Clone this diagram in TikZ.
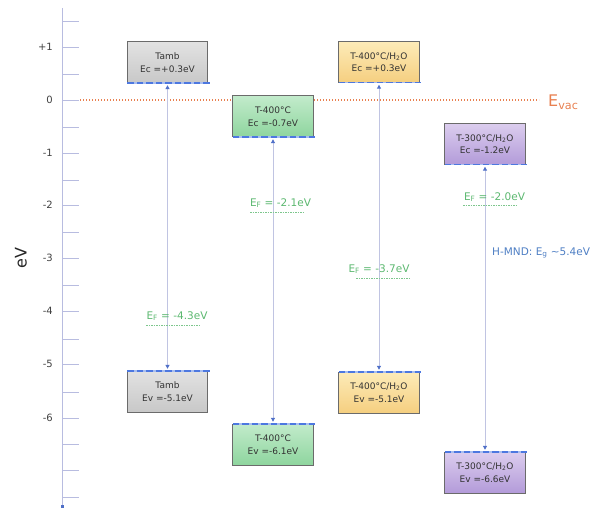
\documentclass[tikz,border=0pt]{standalone}
\usepackage{fontspec}
\setmainfont{DejaVu Sans}
\usetikzlibrary{arrows.meta}

\definecolor{axiscol}{HTML}{B8BCE0}
\definecolor{ticktext}{HTML}{404040}
\definecolor{vaccol}{HTML}{E88050}
\definecolor{fermicol}{HTML}{5CB870}
\definecolor{levelline}{HTML}{C0C4E2}
\definecolor{tipcol}{HTML}{5070C8}
\definecolor{edgecol}{HTML}{4D78E0}
\definecolor{edgelight}{HTML}{A8BEF0}
\definecolor{gapcol}{HTML}{4F7FC4}
\definecolor{boxline}{HTML}{6B6B6B}
\definecolor{grayT}{HTML}{E2E2E2}
\definecolor{grayB}{HTML}{C8C8C8}
\definecolor{greenT}{HTML}{C2EBCB}
\definecolor{greenB}{HTML}{8ED59E}
\definecolor{yellowT}{HTML}{FDEBB8}
\definecolor{yellowB}{HTML}{F5CF80}
\definecolor{purpleT}{HTML}{DCCDEE}
\definecolor{purpleB}{HTML}{B39BD9}

\tikzset{
  band/.style={minimum width=80pt, minimum height=41pt,
    inner sep=0pt, align=center, text=black!80, font=\fontsize{9}{12.5}\selectfont},
  grayband/.style={band, top color=grayT, bottom color=grayB},
  greenband/.style={band, top color=greenT, bottom color=greenB},
  yellowband/.style={band, top color=yellowT, bottom color=yellowB},
  purpleband/.style={band, top color=purpleT, bottom color=purpleB},
  frame/.style={draw=boxline, line width=0.8pt},
  gapline/.style={draw=levelline, line width=1pt,
    {Triangle[width=4pt,length=4pt,color=tipcol]}-{Triangle[width=4pt,length=4pt,color=tipcol]}},
  fermilabel/.style={text=fermicol, font=\fontsize{10.5}{12}\selectfont, inner sep=0pt},
  fermiline/.style={draw=fermicol!80, line width=0.7pt, dash pattern=on 1.5pt off 1pt},
  tick/.style={draw=axiscol, line width=0.9pt},
  ticklabel/.style={text=ticktext, font=\fontsize{10}{12}\selectfont, anchor=east, inner sep=0pt}
}

% conduction-band box: framed on three sides, dashed blue edge at the bottom
\newcommand{\condbox}[1]{%
  \draw[frame] (#1.south west) -- (#1.north west) -- (#1.north east) -- (#1.south east);
  \bandedge{#1}{south}}
% valence-band box: framed on three sides, dashed blue edge at the top
\newcommand{\valbox}[1]{%
  \draw[frame] (#1.north west) -- (#1.south west) -- (#1.south east) -- (#1.north east);
  \bandedge{#1}{north}}
% dashed band edge along one side of a box
\newcommand{\bandedge}[2]{%
  \path (#1.#2 west) coordinate (ew) (#1.#2 east) coordinate (ee);
  \fill[edgelight] ([yshift=-0.8pt]ew) rectangle ([yshift=0.8pt]ee);
  \foreach \k in {0,...,8}
    \fill[edgecol] ([xshift=\k*9.5pt, yshift=-0.8pt]ew) rectangle ([xshift=\k*9.5pt+6.5pt, yshift=0.8pt]ew);
}

\begin{document}
\begin{tikzpicture}[x=1pt,y=-1pt]
\useasboundingbox (0,0) rectangle (598,508);

% energy axis
\coordinate (axtop) at (62,8);
\coordinate (axbot) at (62,506);
\draw[draw=axiscol, line width=1pt] (axtop) -- (axbot);
\fill[tipcol] (60.5,504.5) rectangle (63.5,507.5);
\foreach \y in {21,47,74,100,127,153,180,205,232,258,285,311,339,364,392,418,444,470,497}
  \draw[tick] (62,\y) -- (79,\y);
\node[ticklabel] (l1)  at (53,47)  {+1};
\node[ticklabel] (l0)  at (53,100) {0};
\node[ticklabel] (lm1) at (53,153) {-1};
\node[ticklabel] (lm2) at (53,205) {-2};
\node[ticklabel] (lm3) at (53,258) {-3};
\node[ticklabel] (lm4) at (53,311) {-4};
\node[ticklabel] (lm5) at (53,364) {-5};
\node[ticklabel] (lm6) at (53,418) {-6};
\node[rotate=90, text=black!85, font=\fontsize{16}{18}\selectfont] (ev) at (21,258) {eV};

% vacuum level
\coordinate (vacL) at (80,100);
\coordinate (vacR) at (539,100);
\draw[draw=vaccol, line width=1.4pt, dash pattern=on 1.4pt off 1.6pt] (vacL) -- (vacR);
\node[text=vaccol, font=\fontsize{16}{18}\selectfont, anchor=west, inner sep=0pt] (evac) at (548,102) {E\textsubscript{vac}};

% band edges
\node[grayband]   (tambC)  at (167.5,62.5)  {Tamb\\Ec =+0.3eV};
\node[grayband]   (tambV)  at (167.5,391.5) {Tamb\\Ev =-5.1eV};
\node[greenband]  (t400C)  at (273,116.5)   {T-400°C\\Ec =-0.7eV};
\node[greenband]  (t400V)  at (273,444.5)   {T-400°C\\Ev =-6.1eV};
\node[yellowband] (w400C)  at (379,62)      {T-400°C/H\textsubscript{2}O\\Ec =+0.3eV};
\node[yellowband] (w400V)  at (379,392.5)   {T-400°C/H\textsubscript{2}O\\Ev =-5.1eV};
\node[purpleband] (w300C)  at (485,144)     {T-300°C/H\textsubscript{2}O\\Ec =-1.2eV};
\node[purpleband] (w300V)  at (485,472.5)   {T-300°C/H\textsubscript{2}O\\Ev =-6.6eV};

\condbox{tambC}
\condbox{t400C}
\condbox{w400C}
\condbox{w300C}
\valbox{tambV}
\valbox{t400V}
\valbox{w400V}
\valbox{w300V}

% gaps
\draw[gapline] ([yshift=-2pt]tambC.south) -- ([yshift=2pt]tambV.north);
\draw[gapline] ([yshift=-2pt]t400C.south) -- ([yshift=2pt]t400V.north);
\draw[gapline] ([yshift=-2pt]w400C.south) -- ([yshift=2pt]w400V.north);
\draw[gapline] ([yshift=-2pt]w300C.south) -- ([yshift=2pt]w300V.north);

% Fermi levels
\node[fermilabel] (ef1) at (177,316) {E\textsubscript{F} = -4.3eV};
\draw[fermiline] (146,325) -- (199,325);
\node[fermilabel] (ef2) at (280.5,203) {E\textsubscript{F} = -2.1eV};
\draw[fermiline] (250,212) -- (303,212);
\node[fermilabel] (ef3) at (379,269) {E\textsubscript{F} = -3.7eV};
\draw[fermiline] (356,278) -- (409,278);
\node[fermilabel] (ef4) at (494.5,197) {E\textsubscript{F} = -2.0eV};
\draw[fermiline] (463,205) -- (516,205);

% band gap note
\node[text=gapcol, font=\fontsize{10.5}{12}\selectfont, anchor=west, inner sep=0pt] (gap) at (492,253) {H-MND: E\textsubscript{g} \textasciitilde5.4eV};
\end{tikzpicture}
\end{document}
